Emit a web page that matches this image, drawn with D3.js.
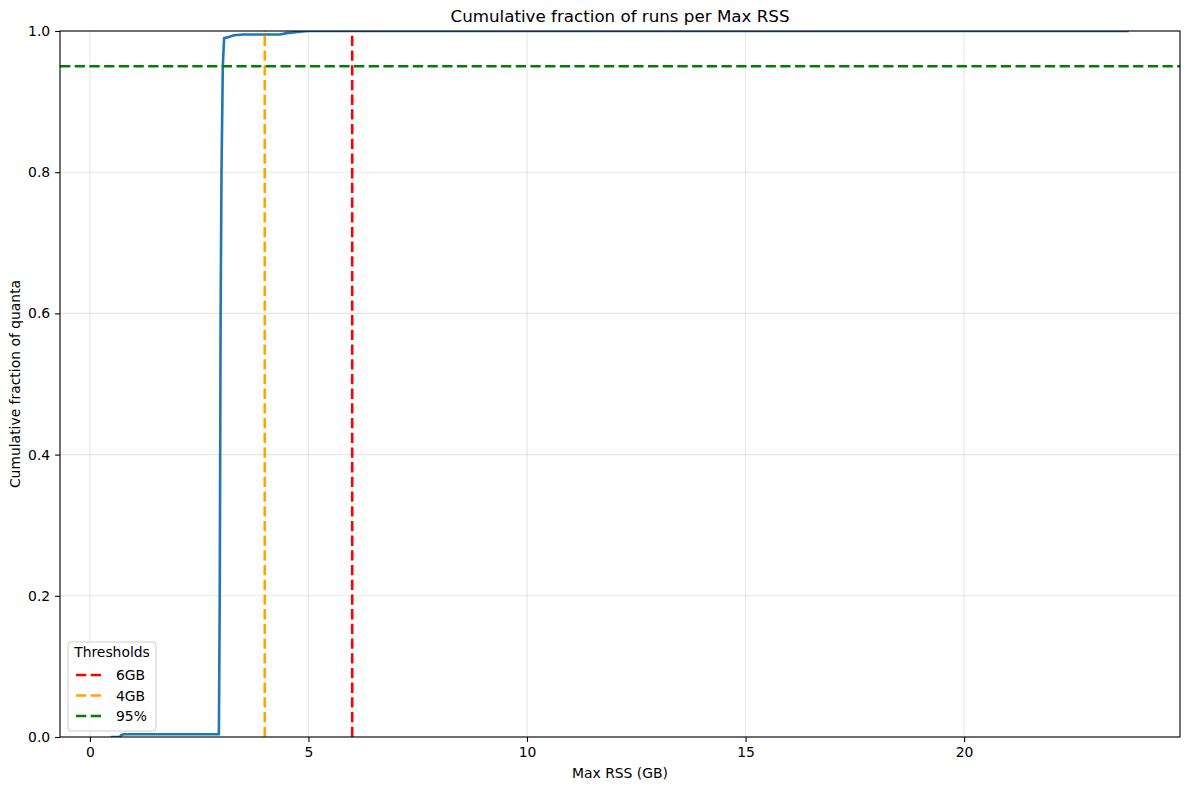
<!DOCTYPE html>
<html>
<head>
<meta charset="utf-8">
<script src="https://cdn.jsdelivr.net/npm/d3@7"></script>
<style>
  body { margin: 0; background: #fff; }
  svg text { font-family: "DejaVu Sans", sans-serif; }
</style>
</head>
<body>
<div id="chart"></div>
<script>
// cumulative curve
var rssGb = [0.48, 0.68, 0.72, 0.78, 2.95, 2.97, 2.99, 3.01, 3.04, 3.07, 3.15, 3.3, 3.5, 4.35, 4.5, 4.8, 5.0, 23.77];
var cumFrac = [0.0, 0.0, 0.003, 0.004, 0.004, 0.2, 0.6, 0.8, 0.95, 0.99, 0.991, 0.994, 0.995, 0.995, 0.997, 0.999, 1.0, 1.0];

var xTicks = [0, 5, 10, 15, 20];
var yTicks = [0, 0.2, 0.4, 0.6, 0.8, 1.0];

var vThresholds = [
    {label: '6GB', value: 6, color: 'red'},
    {label: '4GB', value: 4, color: 'orange'}
];
var hThreshold = {label: '95%', value: 0.95, color: 'green'};

var W = 1189, H = 790;
var margin = {left: 60, right: 9, top: 31, bottom: 53};
var FS = 13.9; // 10pt at 100dpi
var LW = 2.6;  // 2pt lines
var dash = '10.3,4.4';

var svg = d3.select('#chart').append('svg')
    .attr('width', W).attr('height', H);

var x = d3.scaleLinear().domain([-0.685, 24.94]).range([margin.left, W - margin.right]);
var y = d3.scaleLinear().domain([0, 1]).range([H - margin.bottom, margin.top]);

// clip marks to the axes box, like matplotlib
svg.append('clipPath').attr('id', 'plot-clip')
    .append('rect')
    .attr('x', x.range()[0]).attr('y', y(1))
    .attr('width', x.range()[1] - x.range()[0])
    .attr('height', y(0) - y(1));

// grid
svg.append('g').selectAll('line').data(xTicks).enter().append('line')
    .attr('x1', d => x(d)).attr('x2', d => x(d))
    .attr('y1', y(0)).attr('y2', y(1))
    .attr('stroke', '#b0b0b0').attr('stroke-opacity', 0.3).attr('stroke-width', 1.1);
svg.append('g').selectAll('line').data(yTicks).enter().append('line')
    .attr('x1', x.range()[0]).attr('x2', x.range()[1])
    .attr('y1', d => y(d)).attr('y2', d => y(d))
    .attr('stroke', '#b0b0b0').attr('stroke-opacity', 0.3).attr('stroke-width', 1.1);

var plot = svg.append('g').attr('clip-path', 'url(#plot-clip)');

// curve
var pts = rssGb.map((v, i) => [v, cumFrac[i]]);
plot.append('path')
    .datum(pts)
    .attr('fill', 'none')
    .attr('stroke', '#1f77b4')
    .attr('stroke-width', LW)
    .attr('stroke-linejoin', 'round')
    .attr('d', d3.line().x(d => x(d[0])).y(d => y(d[1])));

// threshold lines
plot.append('g').selectAll('line').data(vThresholds).enter().append('line')
    .attr('x1', d => x(d.value)).attr('x2', d => x(d.value))
    .attr('y1', y(0)).attr('y2', y(1))
    .attr('stroke', d => d.color).attr('stroke-width', LW)
    .attr('stroke-dasharray', dash);
plot.append('line')
    .attr('x1', x.range()[0]).attr('x2', x.range()[1])
    .attr('y1', y(hThreshold.value)).attr('y2', y(hThreshold.value))
    .attr('stroke', hThreshold.color).attr('stroke-width', LW)
    .attr('stroke-dasharray', dash);

// axes
var xAxis = svg.append('g')
    .attr('transform', 'translate(0,' + y(0) + ')')
    .call(d3.axisBottom(x).tickValues(xTicks).tickFormat(d3.format('d')).tickSize(4.9).tickPadding(4.9));
var yAxis = svg.append('g')
    .attr('transform', 'translate(' + x.range()[0] + ',0)')
    .call(d3.axisLeft(y).tickValues(yTicks).tickFormat(d3.format('.1f')).tickSize(4.9).tickPadding(4.9));
[xAxis, yAxis].forEach(function(a) {
    a.selectAll('text').attr('font-size', FS).attr('fill', '#000');
    a.selectAll('line').attr('stroke', '#000').attr('stroke-width', 1.1);
    a.select('.domain').remove();
});

// frame
svg.append('rect')
    .attr('x', x.range()[0]).attr('y', y(1))
    .attr('width', x.range()[1] - x.range()[0])
    .attr('height', y(0) - y(1))
    .attr('fill', 'none').attr('stroke', '#000').attr('stroke-width', 1.1);

// labels
svg.append('text')
    .attr('x', (x.range()[0] + x.range()[1]) / 2).attr('y', 22)
    .attr('text-anchor', 'middle').attr('font-size', 16.7)
    .text('Cumulative fraction of runs per Max RSS');
svg.append('text')
    .attr('x', (x.range()[0] + x.range()[1]) / 2).attr('y', 778)
    .attr('text-anchor', 'middle').attr('font-size', FS)
    .text('Max RSS (GB)');
svg.append('text')
    .attr('transform', 'translate(20,' + (y(0) + y(1)) / 2 + ') rotate(-90)')
    .attr('text-anchor', 'middle').attr('font-size', FS)
    .text('Cumulative fraction of quanta');

// legend
var legendItems = vThresholds.concat([hThreshold]);
var lg = svg.append('g').attr('transform', 'translate(68,642)');
lg.append('rect')
    .attr('width', 88).attr('height', 89).attr('rx', 3)
    .attr('fill', '#fff').attr('fill-opacity', 0.8)
    .attr('stroke', '#ccc').attr('stroke-width', 1);
lg.append('text').attr('x', 44).attr('y', 15)
    .attr('text-anchor', 'middle').attr('font-size', FS).text('Thresholds');
var items = lg.selectAll('g.item').data(legendItems).enter().append('g')
    .attr('transform', (d, i) => 'translate(0,' + (33 + i * 20.5) + ')');
items.append('line')
    .attr('x1', 8).attr('x2', 36).attr('y1', 0).attr('y2', 0)
    .attr('stroke', d => d.color).attr('stroke-width', LW)
    .attr('stroke-dasharray', dash);
items.append('text').attr('x', 48).attr('y', 5)
    .attr('font-size', FS).text(d => d.label);
</script>
</body>
</html>
